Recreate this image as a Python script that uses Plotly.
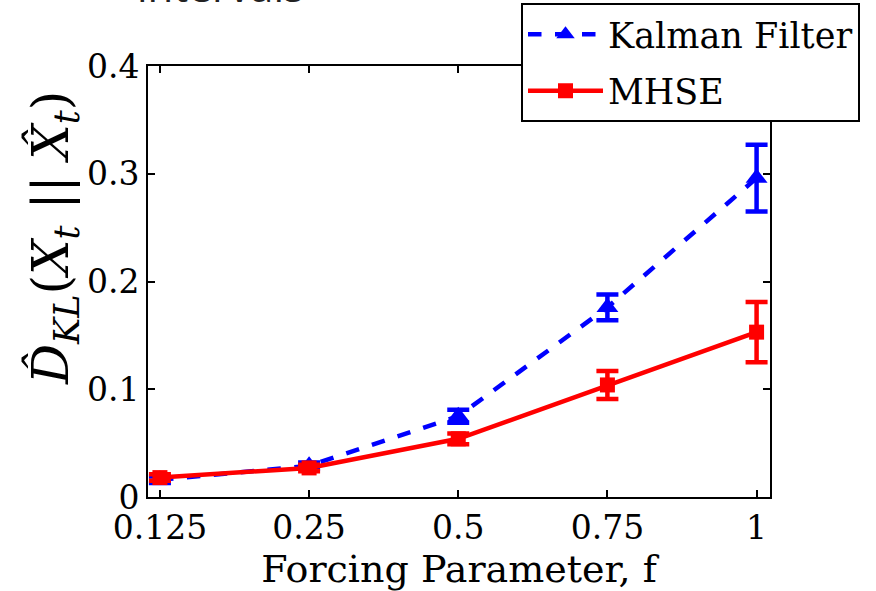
import plotly.graph_objects as go

categories = ["0.125", "0.25", "0.5", "0.75", "1"]
kalman_mean = [0.016, 0.029, 0.075, 0.176, 0.296]
kalman_err = [0.003, 0.003, 0.006, 0.012, 0.031]
mhse_mean = [0.018, 0.027, 0.054, 0.104, 0.153]
mhse_err = [0.003, 0.003, 0.005, 0.013, 0.028]
yticks = [0, 0.1, 0.2, 0.3, 0.4]
ytick_text = ["0", "0.1", "0.2", "0.3", "0.4"]

xpos = list(range(len(categories)))
SERIF = "DejaVu Serif"

fig = go.Figure()
fig.add_trace(go.Scatter(
    x=xpos, y=kalman_mean, name="Kalman Filter", mode="lines+markers",
    line=dict(color="#0000FF", width=4.5, dash="dash"),
    marker=dict(symbol="triangle-up", size=19, color="#0000FF"),
    error_y=dict(type="data", array=kalman_err, color="#0000FF", thickness=4.5, width=11),
    legendgroup="k",
))
fig.add_trace(go.Scatter(
    x=xpos, y=mhse_mean, name="MHSE", mode="lines+markers",
    line=dict(color="#FF0000", width=4.5),
    marker=dict(symbol="square", size=15, color="#FF0000"),
    error_y=dict(type="data", array=mhse_err, color="#FF0000", thickness=4.5, width=11),
    legendgroup="m",
))

fig.update_layout(
    width=876, height=591,
    margin=dict(l=148, r=106, t=66, b=94, autoexpand=False),
    paper_bgcolor="white", plot_bgcolor="white",
    showlegend=True,
    legend=dict(
        x=(521 - 148) / 622, y=(497 - 3) / 431, xanchor="left", yanchor="top",
        bgcolor="white", bordercolor="black", borderwidth=2,
        font=dict(family=SERIF, size=35, color="black"),
        tracegroupgap=8, traceorder="grouped",
        itemwidth=75,
    ),
    xaxis=dict(
        range=[-0.08, 4.09], tickvals=xpos, ticktext=categories,
        showline=True, linecolor="black", linewidth=2, mirror="ticks",
        ticks="inside", ticklen=7, tickwidth=2, tickcolor="black",
        showgrid=False, zeroline=False,
        tickfont=dict(family=SERIF, size=33, color="black"),
        title=dict(text="Forcing Parameter, f", standoff=0,
                   font=dict(family=SERIF, size=38, color="black")),
    ),
    yaxis=dict(
        range=[0, 0.4], tickvals=yticks, ticktext=ytick_text,
        showline=True, linecolor="black", linewidth=2, mirror="ticks",
        ticks="inside", ticklen=7, tickwidth=2, tickcolor="black",
        showgrid=False, zeroline=False,
        tickfont=dict(family=SERIF, size=33, color="black"),
    ),
)

fig.add_annotation(
    text="<i>D̂</i><sub><i>KL</i></sub>(<i>X</i><sub><i>t</i></sub> || <i>X̂</i><sub><i>t</i></sub>)",
    xref="paper", yref="paper", x=(54 - 148) / 622, y=(497 - 238) / 431,
    xanchor="center", yanchor="middle",
    textangle=-90, showarrow=False,
    font=dict(family=SERIF, size=50, color="black"),
)

fig.add_annotation(
    text="intervals", xref="paper", yref="paper",
    x=(135 - 148) / 622, y=(497 - 16) / 431, xanchor="left", yanchor="bottom",
    showarrow=False, font=dict(family="Open Sans", size=42, color="#222222"),
)

fig.write_html("out.html", config={"displayModeBar": False},
               post_script="document.body.style.margin='0';")
